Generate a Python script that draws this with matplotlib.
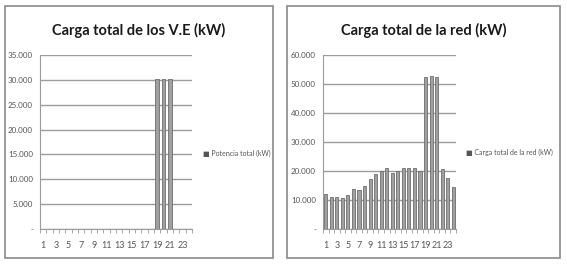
import matplotlib.pyplot as plt
from matplotlib.patches import Rectangle
from matplotlib.ticker import FuncFormatter

# hours of the day
horas = list(range(1, 25))

# total load of the electric vehicles (kW)
carga_ve = [0] * 18 + [30200, 30200, 30200] + [0] * 3

# total load of the grid (kW)
carga_red = [12100, 11200, 10900, 10800, 11600, 13700, 13400, 14800,
             17400, 18900, 19900, 20900, 19400, 20000, 21200, 21200,
             21000, 20000, 52400, 52900, 52300, 20700, 17700, 14600]

xtick_labels = [str(h) for h in horas[::2]]

plt.rcParams['font.family'] = ['Lato', 'DejaVu Sans']

W, H = 567, 264
fig = plt.figure(figsize=(W / 100, H / 100), dpi=100)
fig.patch.set_facecolor('white')


def px(x, y, w, h):
    """pixel box (top-left origin) -> figure fraction"""
    return [x / W, 1 - (y + h) / H, w / W, h / H]


def miles(v, pos):
    if v == 0:
        return '-'
    return f'{int(v):,}'.replace(',', '.')


def panel(box, axbox, valores, ymax, titulo, leyenda, leg_xy):
    x, y, w, h = box
    fig.patches.append(Rectangle((x / W, 1 - (y + h) / H), w / W, h / H,
                                 transform=fig.transFigure, fill=False,
                                 edgecolor='#8a8a8a', linewidth=1.2))
    ax = fig.add_axes(px(*axbox))
    ax.bar(horas, valores, width=0.55, color='#a0a0a0',
           edgecolor='#6e6e6e', linewidth=0.6, zorder=3, label=leyenda)
    ax.set_xlim(0.5, 24.5)
    ax.set_ylim(0, ymax)
    step = 5000 if ymax <= 35000 else 10000
    ax.set_yticks(range(0, ymax + 1, step))
    ax.yaxis.set_major_formatter(FuncFormatter(miles))
    ax.set_xticks(horas[::2])
    ax.set_xticklabels(xtick_labels)
    ax.set_xticks([h + 0.5 for h in range(0, 25)], minor=True)
    ax.tick_params(axis='x', which='major', length=0, pad=9,
                   labelsize=6.5, colors='#555555')
    ax.tick_params(axis='x', which='minor', length=3, color='#999999',
                   direction='out')
    ax.tick_params(axis='y', length=0, pad=5, labelsize=5.8, colors='#555555')
    ax.grid(axis='y', color='#9c9c9c', linewidth=1, zorder=0)
    for s in ['top', 'right']:
        ax.spines[s].set_visible(False)
    ax.spines['left'].set_color('#9c9c9c')
    ax.spines['bottom'].set_color('#9c9c9c')
    fig.text((x + w / 2) / W, 1 - 30 / H, titulo, fontsize=10.5,
             fontweight='bold', color='#1a1a1a', ha='center', va='center')
    fig.text(leg_xy[0] / W, 1 - leg_xy[1] / H, '\u25A0 ' + leyenda,
             fontsize=5, color='#555555', va='center', ha='left')
    return ax


panel((5, 6, 268, 252), (40, 55, 152, 174), carga_ve, 35000,
      'Carga total de los V.E (kW)', 'Potencia total (kW)', (203, 153))
panel((287, 6, 273, 252), (323, 55, 133, 174), carga_red, 60000,
      'Carga total de la red (kW)', 'Carga total de la red (kW)', (466, 152))

fig.savefig('out.png', dpi=100)
